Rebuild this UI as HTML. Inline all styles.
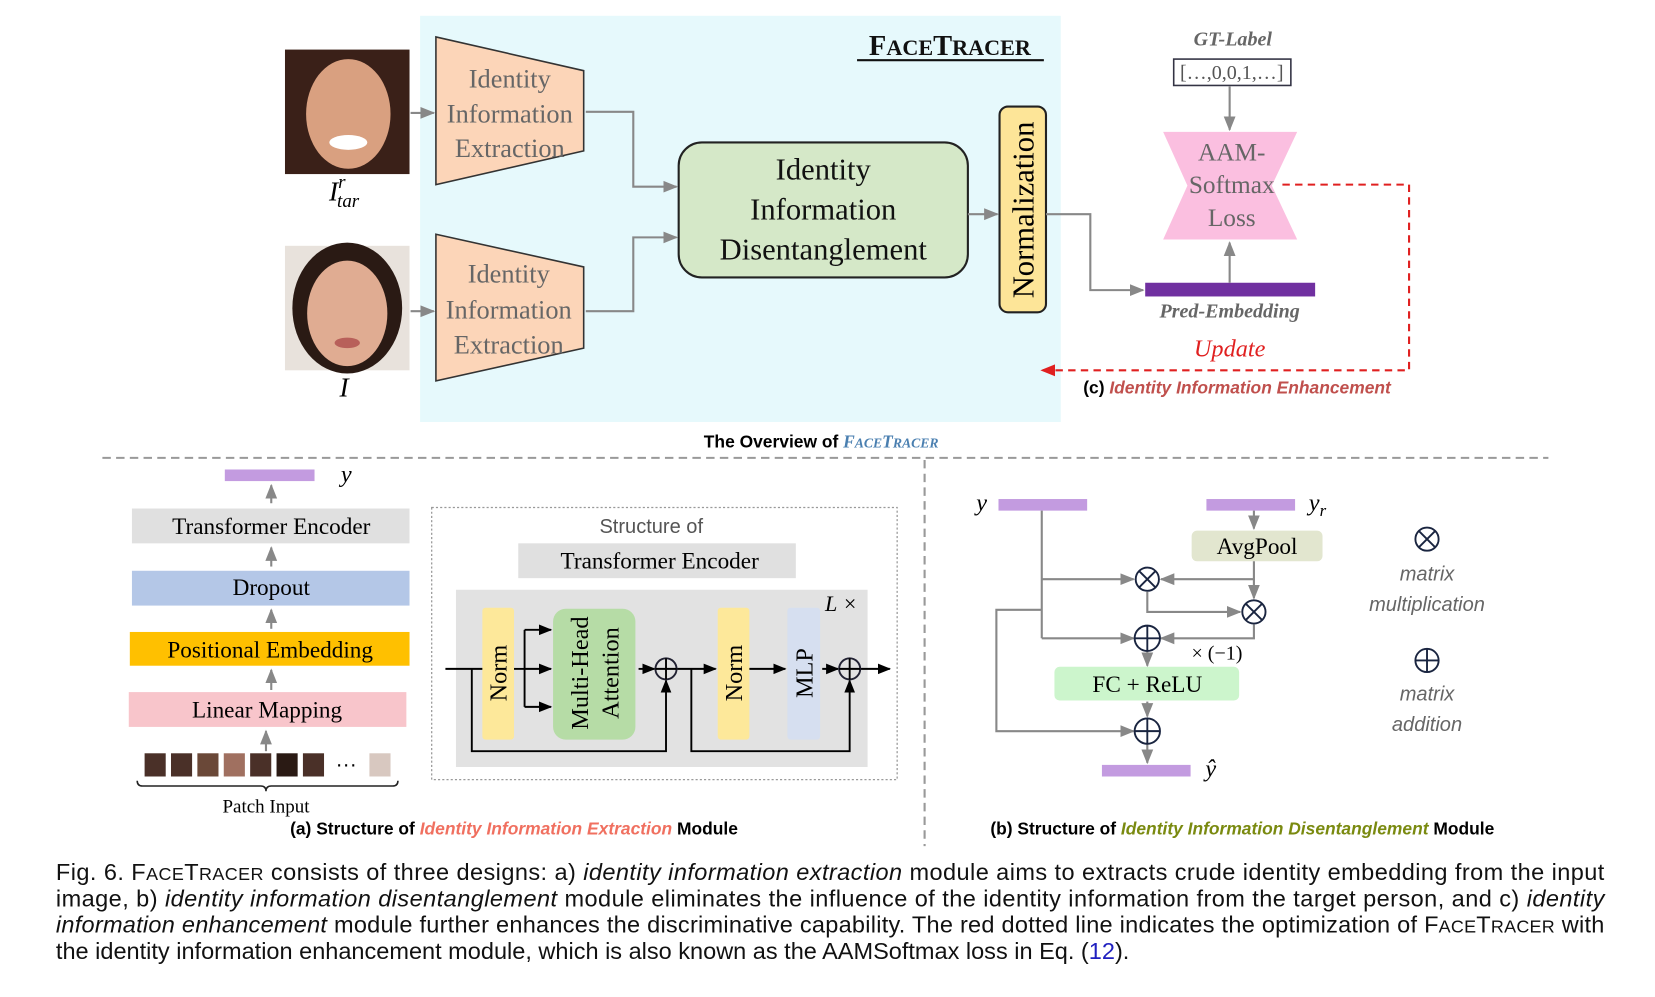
<!DOCTYPE html>
<html><head><meta charset="utf-8"><style>html,body{margin:0;padding:0;background:#fff}svg{display:block}</style></head>
<body>
<svg xmlns="http://www.w3.org/2000/svg" width="1655" height="997" viewBox="0 0 1568 945" preserveAspectRatio="none">
<defs>
<marker id="ag" viewBox="0 0 10 10" refX="9" refY="5" markerWidth="7" markerHeight="7" orient="auto"><path d="M0,1 L10,5 L0,9z" fill="#888"/></marker>
<marker id="ak" viewBox="0 0 10 10" refX="9" refY="5" markerWidth="7" markerHeight="7" orient="auto"><path d="M0,1 L10,5 L0,9z" fill="#000"/></marker>
<marker id="ar" viewBox="0 0 10 10" refX="9" refY="5" markerWidth="7" markerHeight="7" orient="auto"><path d="M0,1 L10,5 L0,9z" fill="#e02020"/></marker>
</defs>
<rect width="1568" height="945" fill="#fff"/>
<rect x="398" y="15" width="607" height="385" fill="#e6f9fc"/>
<text x="900" y="52" font-family="Liberation Serif,serif" font-weight="bold" font-size="27" text-anchor="middle" fill="#111">F<tspan font-size="21">ACE</tspan>T<tspan font-size="21">RACER</tspan></text>
<line x1="812" y1="57" x2="989" y2="57" stroke="#111" stroke-width="2"/>
<rect x="270" y="47" width="118" height="118" fill="#3a2018"/>
<ellipse cx="330" cy="108" rx="40" ry="52" fill="#d9a080"/>
<ellipse cx="330" cy="135" rx="18" ry="7" fill="#fff"/>
<rect x="270" y="233" width="118" height="118" fill="#e8e2dc"/>
<ellipse cx="329" cy="292" rx="52" ry="62" fill="#2a1a14"/>
<ellipse cx="329" cy="297" rx="38" ry="50" fill="#e0ac92"/>
<ellipse cx="329" cy="325" rx="12" ry="5" fill="#b8605a"/>
<text x="326" y="190" font-family="Liberation Serif,serif" font-style="italic" font-size="26" text-anchor="middle">I<tspan font-size="18" dy="-12">r</tspan><tspan font-size="18" dx="-8" dy="18">tar</tspan></text>
<text x="326" y="376" font-family="Liberation Serif,serif" font-style="italic" font-size="26" text-anchor="middle">I</text>
<line x1="389" y1="107" x2="411" y2="107" stroke="#888" stroke-width="2" marker-end="url(#ag)"/>
<line x1="389" y1="295" x2="411" y2="295" stroke="#888" stroke-width="2" marker-end="url(#ag)"/>
<g font-family="Liberation Serif,serif" font-size="25" fill="#666" text-anchor="middle">
<polygon points="413,35 553,67 553,143 413,175" fill="#fcd5b8" stroke="#333" stroke-width="1.5"/>
<text x="483" y="83">Identity</text><text x="483" y="116">Information</text><text x="483" y="149">Extraction</text>
<polygon points="413,222 553,253 553,330 413,361" fill="#fcd5b8" stroke="#333" stroke-width="1.5"/>
<text x="482" y="268">Identity</text><text x="482" y="302">Information</text><text x="482" y="335">Extraction</text>
</g>
<polyline points="555,106 600,106 600,177 641,177" fill="none" stroke="#888" stroke-width="2" marker-end="url(#ag)"/>
<polyline points="555,295 600,295 600,225 641,225" fill="none" stroke="#888" stroke-width="2" marker-end="url(#ag)"/>
<rect x="643" y="135" width="274" height="128" rx="22" fill="#d5e8c8" stroke="#222" stroke-width="2"/>
<g font-family="Liberation Serif,serif" font-size="29" text-anchor="middle" fill="#111">
<text x="780" y="170">Identity</text><text x="780" y="208">Information</text><text x="780" y="246">Disentanglement</text></g>
<line x1="917" y1="203" x2="945" y2="203" stroke="#888" stroke-width="2" marker-end="url(#ag)"/>
<rect x="947" y="101" width="44" height="195" rx="8" fill="#fde598" stroke="#222" stroke-width="2"/>
<text transform="translate(979,199) rotate(-90)" font-family="Liberation Serif,serif" font-size="29" text-anchor="middle">Normalization</text>
<polyline points="991,203 1033,203 1033,275 1083,275" fill="none" stroke="#888" stroke-width="2" marker-end="url(#ag)"/>
<rect x="1085" y="268" width="161" height="13" fill="#7030a0"/>
<text x="1165" y="301" font-family="Liberation Serif,serif" font-style="italic" font-weight="bold" font-size="19" fill="#666" text-anchor="middle">Pred-Embedding</text>
<line x1="1165" y1="268" x2="1165" y2="230" stroke="#888" stroke-width="2" marker-end="url(#ag)"/>
<polygon points="1102,125 1229,125 1205,176 1229,227 1102,227 1125,176" fill="#fbbfe0"/>
<g font-family="Liberation Serif,serif" font-size="24" fill="#666" text-anchor="middle">
<text x="1167" y="152">AAM-</text><text x="1167" y="183">Softmax</text><text x="1167" y="214">Loss</text></g>
<text x="1168" y="43" font-family="Liberation Serif,serif" font-style="italic" font-weight="bold" font-size="19" fill="#666" text-anchor="middle">GT-Label</text>
<rect x="1112" y="56" width="111" height="25" fill="#fff" stroke="#334" stroke-width="1.5"/>
<text x="1167" y="75" font-family="Liberation Serif,serif" font-size="19" fill="#555" text-anchor="middle">[…,0,0,1,…]</text>
<line x1="1165" y1="82" x2="1165" y2="123" stroke="#888" stroke-width="2" marker-end="url(#ag)"/>
<polyline points="1215,175 1335,175 1335,351 987,351" fill="none" stroke="#e02020" stroke-width="2" stroke-dasharray="7,5" marker-end="url(#ar)"/>
<text x="1165" y="338" font-family="Liberation Serif,serif" font-style="italic" font-size="23" fill="#e02020" text-anchor="middle">Update</text>
<text x="1172" y="373" font-family="Liberation Sans,sans-serif" font-weight="bold" font-size="16.5" text-anchor="middle">(c) <tspan font-style="italic" fill="#c0504d">Identity Information Enhancement</tspan></text>
<text x="778" y="424" font-family="Liberation Sans,sans-serif" font-weight="bold" font-size="16.5" text-anchor="middle">The Overview of <tspan font-family="Liberation Serif,serif" font-style="italic" fill="#4a7fb0">F<tspan font-size="13">ACE</tspan>T<tspan font-size="13">RACER</tspan></tspan></text>
<line x1="97" y1="434" x2="1467" y2="434" stroke="#999" stroke-width="2" stroke-dasharray="8,5"/>
<line x1="876" y1="436" x2="876" y2="802" stroke="#999" stroke-width="2" stroke-dasharray="8,5"/>
<rect x="213" y="445" width="85" height="11" fill="#c39be0"/>
<text x="323" y="457" font-family="Liberation Serif,serif" font-style="italic" font-size="23">y</text>
<g stroke="#888" stroke-width="2" marker-end="url(#ag)">
<line x1="257" y1="477" x2="257" y2="460"/><line x1="257" y1="537" x2="257" y2="519"/><line x1="257" y1="596" x2="257" y2="578"/><line x1="257" y1="654" x2="257" y2="635"/><line x1="252" y1="712" x2="252" y2="693"/></g>
<g font-family="Liberation Serif,serif" font-size="22" text-anchor="middle">
<rect x="125" y="482" width="263" height="33" fill="#e0e0e0"/><text x="257" y="506">Transformer Encoder</text>
<rect x="125" y="541" width="263" height="33" fill="#b4c7e7"/><text x="257" y="564">Dropout</text>
<rect x="123" y="599" width="265" height="32" fill="#ffc000"/><text x="256" y="623">Positional Embedding</text>
<rect x="122" y="656" width="263" height="33" fill="#f8c5cb"/><text x="253" y="680">Linear Mapping</text>
<text x="252" y="770" font-size="18">Patch Input</text></g>
<g fill="#4a3028"><rect x="137" y="714" width="20" height="22"/><rect x="162" y="714" width="20" height="22"/><rect x="187" y="714" width="20" height="22" fill="#6a4838"/><rect x="212" y="714" width="20" height="22" fill="#a07060"/><rect x="237" y="714" width="20" height="22"/><rect x="262" y="714" width="20" height="22" fill="#2a1a14"/><rect x="287" y="714" width="20" height="22"/><rect x="350" y="714" width="20" height="22" fill="#d8c8c0"/></g>
<text x="328" y="731" font-family="Liberation Sans,sans-serif" font-size="20" text-anchor="middle">···</text>
<path d="M130,740 Q130,745 135,745 L247,745 Q252,745 252,750 Q252,745 257,745 L372,745 Q377,745 377,740" fill="none" stroke="#222" stroke-width="1.5"/>
<text x="487" y="791" font-family="Liberation Sans,sans-serif" font-weight="bold" font-size="16.5" text-anchor="middle">(a) Structure of <tspan font-style="italic" fill="#f07060">Identity Information Extraction</tspan> Module</text>
<rect x="409" y="481" width="441" height="258" fill="none" stroke="#999" stroke-width="1.2" stroke-dasharray="2,2"/>
<text x="617" y="505" font-family="Liberation Sans,sans-serif" font-size="19" fill="#555" text-anchor="middle">Structure of</text>
<rect x="491" y="515" width="263" height="33" fill="#e0e0e0"/>
<text x="625" y="539" font-family="Liberation Serif,serif" font-size="22" text-anchor="middle">Transformer Encoder</text>
<rect x="432" y="559" width="390" height="168" fill="#e2e2e2"/>
<text x="797" y="579" font-family="Liberation Serif,serif" font-style="italic" font-size="21" text-anchor="middle">L ×</text>
<rect x="457" y="576" width="30" height="125" rx="3" fill="#fde89a"/>
<rect x="524" y="577" width="78" height="124" rx="12" fill="#b6dca6"/>
<rect x="680" y="576" width="30" height="125" rx="3" fill="#fde89a"/>
<rect x="746" y="576" width="31" height="125" rx="3" fill="#d6dff0"/>
<g font-family="Liberation Serif,serif" font-size="23" text-anchor="middle">
<text transform="translate(480,638) rotate(-90)">Norm</text>
<text transform="translate(557,638) rotate(-90)">Multi-Head</text>
<text transform="translate(586,638) rotate(-90)">Attention</text>
<text transform="translate(703,638) rotate(-90)">Norm</text>
<text transform="translate(770,638) rotate(-90)">MLP</text></g>
<g stroke="#000" stroke-width="1.8" fill="none">
<line x1="422" y1="634" x2="457" y2="634"/>
<line x1="487" y1="634" x2="497" y2="634"/>
<line x1="497" y1="597" x2="497" y2="670"/>
<line x1="497" y1="597" x2="522" y2="597" marker-end="url(#ak)"/>
<line x1="497" y1="634" x2="522" y2="634" marker-end="url(#ak)"/>
<line x1="497" y1="670" x2="522" y2="670" marker-end="url(#ak)"/>
<line x1="605" y1="634" x2="620" y2="634" marker-end="url(#ak)"/>
<polyline points="447,634 447,712 631,712 631,645" marker-end="url(#ak)"/>
<line x1="641" y1="634" x2="678" y2="634" marker-end="url(#ak)"/>
<polyline points="655,634 655,712 805,712 805,645" marker-end="url(#ak)"/>
<line x1="710" y1="634" x2="744" y2="634" marker-end="url(#ak)"/>
<line x1="779" y1="634" x2="794" y2="634" marker-end="url(#ak)"/>
<line x1="815" y1="634" x2="843" y2="634" marker-end="url(#ak)"/>
<circle cx="631" cy="634" r="10" fill="#e2e2e2" stroke="#223"/><line x1="621" y1="634" x2="641" y2="634"/><line x1="631" y1="624" x2="631" y2="644"/>
<circle cx="805" cy="634" r="10" fill="#e2e2e2" stroke="#223"/><line x1="795" y1="634" x2="815" y2="634"/><line x1="805" y1="624" x2="805" y2="644"/>
</g>
<text x="930" y="484" font-family="Liberation Serif,serif" font-style="italic" font-size="23" text-anchor="middle">y</text>
<rect x="946" y="473" width="84" height="11" fill="#c39be0"/>
<rect x="1143" y="473" width="84" height="11" fill="#c39be0"/>
<text x="1240" y="484" font-family="Liberation Serif,serif" font-style="italic" font-size="23">y<tspan font-size="16" dy="5">r</tspan></text>
<rect x="1129" y="503" width="124" height="29" rx="5" fill="#e2e6cf"/>
<text x="1191" y="525" font-family="Liberation Serif,serif" font-size="22" text-anchor="middle">AvgPool</text>
<rect x="999" y="632" width="175" height="32" rx="5" fill="#ccf5cc"/>
<text x="1087" y="656" font-family="Liberation Serif,serif" font-size="22" text-anchor="middle">FC + ReLU</text>
<text x="1153" y="625" font-family="Liberation Serif,serif" font-size="19" text-anchor="middle">× (−1)</text>
<rect x="1044" y="725" width="84" height="11" fill="#c39be0"/>
<text x="1142" y="736" font-family="Liberation Serif,serif" font-style="italic" font-size="23">ŷ</text>
<g stroke="#888" stroke-width="2" fill="none">
<line x1="1188" y1="484" x2="1188" y2="501" marker-end="url(#ag)"/>
<line x1="987" y1="484" x2="987" y2="605"/>
<line x1="987" y1="549" x2="1074" y2="549" marker-end="url(#ag)"/>
<line x1="987" y1="605" x2="1074" y2="605" marker-end="url(#ag)"/>
<polyline points="1188,532 1188,549 1100,549" marker-end="url(#ag)"/>
<line x1="1188" y1="549" x2="1188" y2="567" marker-end="url(#ag)"/>
<polyline points="1087,561 1087,580 1175,580" marker-end="url(#ag)"/>
<polyline points="1188,592 1188,605 1100,605" marker-end="url(#ag)"/>
<line x1="1087" y1="617" x2="1087" y2="631" marker-end="url(#ag)"/>
<line x1="1087" y1="665" x2="1087" y2="679" marker-end="url(#ag)"/>
<line x1="1087" y1="704" x2="1087" y2="723" marker-end="url(#ag)"/>
<polyline points="987,578 944,578 944,693 1074,693" marker-end="url(#ag)"/>
</g>
<g stroke="#1a2540" stroke-width="1.8" fill="none">
<circle cx="1087" cy="549" r="11" fill="#fff"/><line x1="1079" y1="541" x2="1095" y2="557"/><line x1="1095" y1="541" x2="1079" y2="557"/>
<circle cx="1188" cy="580" r="11" fill="#fff"/><line x1="1180" y1="572" x2="1196" y2="588"/><line x1="1196" y1="572" x2="1180" y2="588"/>
<circle cx="1087" cy="605" r="12" fill="#fff"/><line x1="1075" y1="605" x2="1099" y2="605"/><line x1="1087" y1="593" x2="1087" y2="617"/>
<circle cx="1087" cy="693" r="12" fill="#fff"/><line x1="1075" y1="693" x2="1099" y2="693"/><line x1="1087" y1="681" x2="1087" y2="705"/>
<circle cx="1352" cy="511" r="11"/><line x1="1344" y1="503" x2="1360" y2="519"/><line x1="1360" y1="503" x2="1344" y2="519"/>
<circle cx="1352" cy="626" r="11"/><line x1="1341" y1="626" x2="1363" y2="626"/><line x1="1352" y1="615" x2="1352" y2="637"/>
</g>
<g font-family="Liberation Sans,sans-serif" font-style="italic" font-size="19" fill="#666" text-anchor="middle">
<text x="1352" y="550">matrix</text><text x="1352" y="579">multiplication</text>
<text x="1352" y="664">matrix</text><text x="1352" y="693">addition</text></g>
<text x="1177" y="791" font-family="Liberation Sans,sans-serif" font-weight="bold" font-size="16.5" text-anchor="middle">(b) Structure of <tspan font-style="italic" fill="#7a8a10">Identity Information Disentanglement</tspan> Module</text>
<g font-family="Liberation Sans,sans-serif" font-size="22.3" fill="#111">
<text x="53" y="834" textLength="1467" lengthAdjust="spacing">Fig. 6. F<tspan font-size="17">ACE</tspan>T<tspan font-size="17">RACER</tspan> consists of three designs: a) <tspan font-style="italic">identity information extraction</tspan> module aims to extracts crude identity embedding from the input</text>
<text x="53" y="859" textLength="1467" lengthAdjust="spacing">image, b) <tspan font-style="italic">identity information disentanglement</tspan> module eliminates the influence of the identity information from the target person, and c) <tspan font-style="italic">identity</tspan></text>
<text x="53" y="884" textLength="1467" lengthAdjust="spacing"><tspan font-style="italic">information enhancement</tspan> module further enhances the discriminative capability. The red dotted line indicates the optimization of F<tspan font-size="17">ACE</tspan>T<tspan font-size="17">RACER</tspan> with</text>
<text x="53" y="909">the identity information enhancement module, which is also known as the AAMSoftmax loss in Eq. (<tspan fill="#2020c0">12</tspan>).</text>
</g>
</svg>
</body></html>
